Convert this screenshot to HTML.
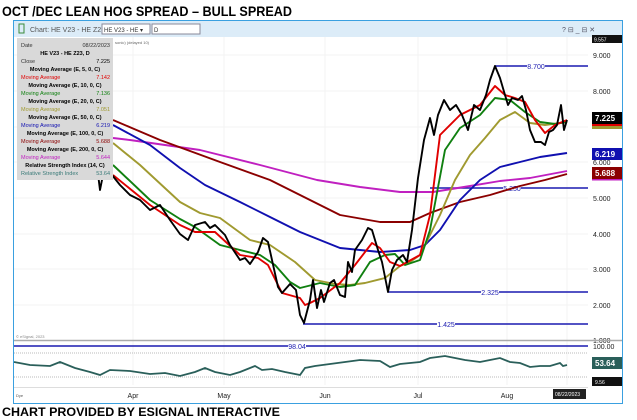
<!DOCTYPE html>
<html><head><meta charset="utf-8"><style>
html,body{margin:0;padding:0;background:#fff;width:637px;height:420px;overflow:hidden}
svg{display:block;font-family:"Liberation Sans",sans-serif}
</style></head><body>
<svg width="637" height="420" viewBox="0 0 637 420" xmlns="http://www.w3.org/2000/svg">
<text x="2" y="16" font-size="14" font-weight="bold" fill="#000" textLength="290" lengthAdjust="spacingAndGlyphs">OCT /DEC LEAN HOG SPREAD –   BULL SPREAD</text>
<rect x="13.5" y="20.5" width="609" height="383" fill="#fff" stroke="#3aa0e0"/>
<rect x="14" y="21" width="608" height="16" fill="#dcecf8"/>
<rect x="19" y="24" width="5" height="9" fill="none" stroke="#3a8a3a"/>
<text x="30" y="32" font-size="7" fill="#555">Chart: HE V23 - HE Z23, D</text>
<rect x="102" y="24" width="48" height="10" fill="#fff" stroke="#889"/>
<text x="104" y="32" font-size="6" fill="#333">HE V23 - HE ▾</text>
<rect x="152" y="24" width="48" height="10" fill="#fff" stroke="#889"/>
<text x="154" y="32" font-size="6" fill="#333">D</text>
<text x="562" y="32" font-size="7" fill="#556">?  ⊟  _  ⊟  ✕</text>
<!-- grid -->
<g stroke="#f3f3f3" stroke-width="1">
<line x1="133" y1="37" x2="133" y2="385"/><line x1="224" y1="37" x2="224" y2="385"/><line x1="325" y1="37" x2="325" y2="385"/><line x1="418" y1="37" x2="418" y2="385"/><line x1="507" y1="37" x2="507" y2="385"/><line x1="567" y1="37" x2="567" y2="385"/>
<line x1="14" y1="55" x2="588" y2="55"/><line x1="14" y1="91" x2="588" y2="91"/><line x1="14" y1="127" x2="588" y2="127"/><line x1="14" y1="162" x2="588" y2="162"/><line x1="14" y1="198" x2="588" y2="198"/><line x1="14" y1="234" x2="588" y2="234"/><line x1="14" y1="269" x2="588" y2="269"/><line x1="14" y1="305" x2="588" y2="305"/>
</g>
<g font-size="7" fill="#222">
<text x="593" y="58">9.000</text><text x="593" y="94">8.000</text><text x="593" y="165">6.000</text><text x="593" y="201">5.000</text><text x="593" y="237">4.000</text><text x="593" y="272">3.000</text><text x="593" y="308">2.000</text>
</g>
<!-- horizontal levels -->
<g stroke="#1a1ab0" stroke-width="1.6">
<line x1="495" y1="66" x2="588" y2="66"/><line x1="430" y1="188" x2="588" y2="188"/><line x1="388" y1="292" x2="588" y2="292"/><line x1="303" y1="324" x2="588" y2="324"/>
</g>
<g font-size="7" fill="#1a1ab0" text-anchor="middle">
<rect x="527" y="62" width="18" height="8" fill="#fff"/><text x="536" y="69">8.700</text>
<rect x="503" y="184" width="18" height="8" fill="#fff"/><text x="512" y="191">5.250</text>
<rect x="481" y="288" width="18" height="8" fill="#fff"/><text x="490" y="295">2.325</text>
<rect x="437" y="320" width="18" height="8" fill="#fff"/><text x="446" y="327">1.425</text>
</g>
<g fill="none" stroke-width="1.9" stroke-linejoin="round">
<polyline stroke="#c020c0" points="113,138 130,140 200,150 260,165 317,180 360,187 400,192 433,192 470,186 500,181 530,178 567,171"/>
<polyline stroke="#8b0000" points="113,120 160,140 220,162 270,180 300,195 340,215 380,222 410,222 430,213 460,202 490,195 520,186 545,180 567,174"/>
<polyline stroke="#1010b0" points="113,125 150,145 180,168 205,185 240,202 270,217 300,232 340,248 380,252 410,250 425,245 440,230 460,200 480,180 500,167 520,162 540,157 567,153"/>
<polyline stroke="#a09a30" points="113,143 140,165 167,190 180,202 200,213 220,218 250,240 270,245 295,262 315,280 335,284 350,285 365,283 385,278 400,266 410,262 420,255 440,215 455,180 470,155 485,138 500,120 515,112 530,123 545,125 567,122"/>
<polyline stroke="#108010" points="113,165 150,200 180,219 195,227 220,245 260,255 275,265 290,282 300,288 320,283 340,287 355,285 370,262 385,255 395,254 405,265 420,260 430,230 445,150 460,128 480,115 495,98 510,100 525,112 540,122 555,124 567,122"/>
<polyline stroke="#e00000" points="113,175 150,205 180,225 195,232 215,232 240,255 258,258 268,265 282,293 300,298 305,305 310,303 320,298 340,283 355,265 372,243 380,248 390,262 400,266 420,255 430,215 440,135 460,115 480,105 495,86 505,95 515,98 525,102 535,120 545,133 555,125 567,120"/>
<polyline stroke="#000" points="95,150 100,190 105,165 112,175 120,185 130,195 140,200 150,210 160,205 170,220 180,234 188,240 195,225 205,222 210,228 215,225 225,235 230,245 240,260 245,258 250,264 258,252 263,238 268,242 278,287 282,293 290,284 296,290 300,315 304,323 310,300 313,280 317,308 321,290 324,302 330,283 334,280 340,295 345,297 348,262 352,272 355,250 362,240 368,228 372,230 378,250 382,262 388,292 392,270 397,260 403,255 407,262 412,230 418,178 424,140 430,118 434,135 438,115 444,100 450,110 456,105 462,115 468,130 474,105 480,110 486,95 490,80 495,66 500,78 505,95 508,105 512,98 518,100 522,96 526,110 530,130 535,142 541,142 545,145 549,132 553,130 557,125 561,105 564,130 567,120"/>
</g>
<!-- tooltip -->
<rect x="17" y="38" width="96" height="142" fill="#d9d9d9"/>
<g font-size="5.5">
<text x="21" y="47" fill="#333">Date</text><text x="110" y="47" text-anchor="end" fill="#333">08/22/2023</text>
<text x="65" y="55" text-anchor="middle" font-weight="bold">HE V23 - HE Z23, D</text>
<text x="21" y="63" fill="#333">Close</text><text x="110" y="63" text-anchor="end">7.225</text>
<text x="65" y="71" text-anchor="middle" font-weight="bold">Moving Average (E, 5, 0, C)</text>
<text x="21" y="79" fill="#e00000">Moving Average</text><text x="110" y="79" text-anchor="end" fill="#e00000">7.142</text>
<text x="65" y="87" text-anchor="middle" font-weight="bold">Moving Average (E, 10, 0, C)</text>
<text x="21" y="95" fill="#108010">Moving Average</text><text x="110" y="95" text-anchor="end" fill="#108010">7.136</text>
<text x="65" y="103" text-anchor="middle" font-weight="bold">Moving Average (E, 20, 0, C)</text>
<text x="21" y="111" fill="#a09a30">Moving Average</text><text x="110" y="111" text-anchor="end" fill="#a09a30">7.051</text>
<text x="65" y="119" text-anchor="middle" font-weight="bold">Moving Average (E, 50, 0, C)</text>
<text x="21" y="127" fill="#1010b0">Moving Average</text><text x="110" y="127" text-anchor="end" fill="#1010b0">6.219</text>
<text x="65" y="135" text-anchor="middle" font-weight="bold">Moving Average (E, 100, 0, C)</text>
<text x="21" y="143" fill="#8b0000">Moving Average</text><text x="110" y="143" text-anchor="end" fill="#8b0000">5.688</text>
<text x="65" y="151" text-anchor="middle" font-weight="bold">Moving Average (E, 200, 0, C)</text>
<text x="21" y="159" fill="#c020c0">Moving Average</text><text x="110" y="159" text-anchor="end" fill="#c020c0">5.644</text>
<text x="65" y="167" text-anchor="middle" font-weight="bold">Relative Strength Index (14, C)</text>
<text x="21" y="175" fill="#3a7a78">Relative Strength Index</text><text x="110" y="175" text-anchor="end" fill="#3a7a78">53.64</text>
</g>
<text x="115" y="44" font-size="4" fill="#666">sonic) (delayed 10)</text>
<!-- price labels -->
<rect x="592" y="35" width="30" height="8" fill="#111"/><text x="594" y="41.5" font-size="5" fill="#fff">9.557</text>
<rect x="592" y="112" width="30" height="12" fill="#000"/><text x="595" y="121" font-size="8" font-weight="bold" fill="#fff">7.225</text>
<rect x="592" y="124" width="30" height="2" fill="#e00000"/><rect x="592" y="126" width="30" height="3" fill="#a09a30"/>
<rect x="592" y="148" width="30" height="12" fill="#1010b0"/><text x="595" y="157" font-size="8" font-weight="bold" fill="#fff">6.219</text>
<rect x="592" y="167" width="30" height="12" fill="#8b0000"/><text x="595" y="176" font-size="8" font-weight="bold" fill="#fff">5.688</text>
<rect x="592" y="179" width="30" height="1.5" fill="#c020c0"/>
<text x="16" y="338" font-size="4" fill="#888">© eSignal, 2023</text>
<text x="593" y="343" font-size="7" fill="#222">1.000</text>
<!-- RSI panel -->
<line x1="14" y1="340.5" x2="622" y2="340.5" stroke="#aaa" stroke-width="1.5"/>
<line x1="14" y1="346" x2="588" y2="346" stroke="#1a1ab0" stroke-width="1.6"/>
<rect x="288" y="342" width="18" height="8" fill="#fff"/><text x="297" y="349" font-size="7" fill="#1a1ab0" text-anchor="middle">98.04</text>
<text x="593" y="349" font-size="7" fill="#222">100.00</text>
<line x1="14" y1="353" x2="588" y2="353" stroke="#bbb" stroke-dasharray="1,1"/>
<line x1="14" y1="377" x2="588" y2="377" stroke="#bbb" stroke-dasharray="1,1"/>
<polyline fill="none" stroke="#2a5f5a" stroke-width="1.8" points="14,362 30,365 50,366 60,362 75,368 90,372 100,375 110,370 130,371 150,374 165,373 180,376 195,372 205,368 215,372 230,375 240,372 255,366 262,370 272,369 285,372 300,375 305,368 315,366 330,364 345,362 360,360 380,361 390,367 400,364 420,362 430,358 445,356 455,358 465,360 480,362 490,360 500,358 510,362 520,363 530,367 540,366 550,366 560,363 563,366 567,365"/>
<rect x="592" y="357" width="30" height="12" fill="#2a5f5a"/><text x="595" y="366" font-size="8" font-weight="bold" fill="#fff">53.64</text>
<rect x="592" y="377" width="30" height="9" fill="#111"/><text x="595" y="384" font-size="5" fill="#fff">9.56</text>
<line x1="14" y1="387.5" x2="588" y2="387.5" stroke="#ddd"/>
<g font-size="7" fill="#222" text-anchor="middle">
<text x="133" y="398">Apr</text><text x="224" y="398">May</text><text x="325" y="398">Jun</text><text x="418" y="398">Jul</text><text x="507" y="398">Aug</text>
</g>
<text x="16" y="397" font-size="4" fill="#555">Dye</text>
<rect x="553" y="389" width="33" height="10" fill="#222"/><text x="555" y="396" font-size="5" fill="#fff">08/22/2023</text>
<text x="2" y="416" font-size="12" font-weight="bold" fill="#000" textLength="278" lengthAdjust="spacingAndGlyphs">CHART PROVIDED BY ESIGNAL INTERACTIVE</text>
</svg>
</body></html>
